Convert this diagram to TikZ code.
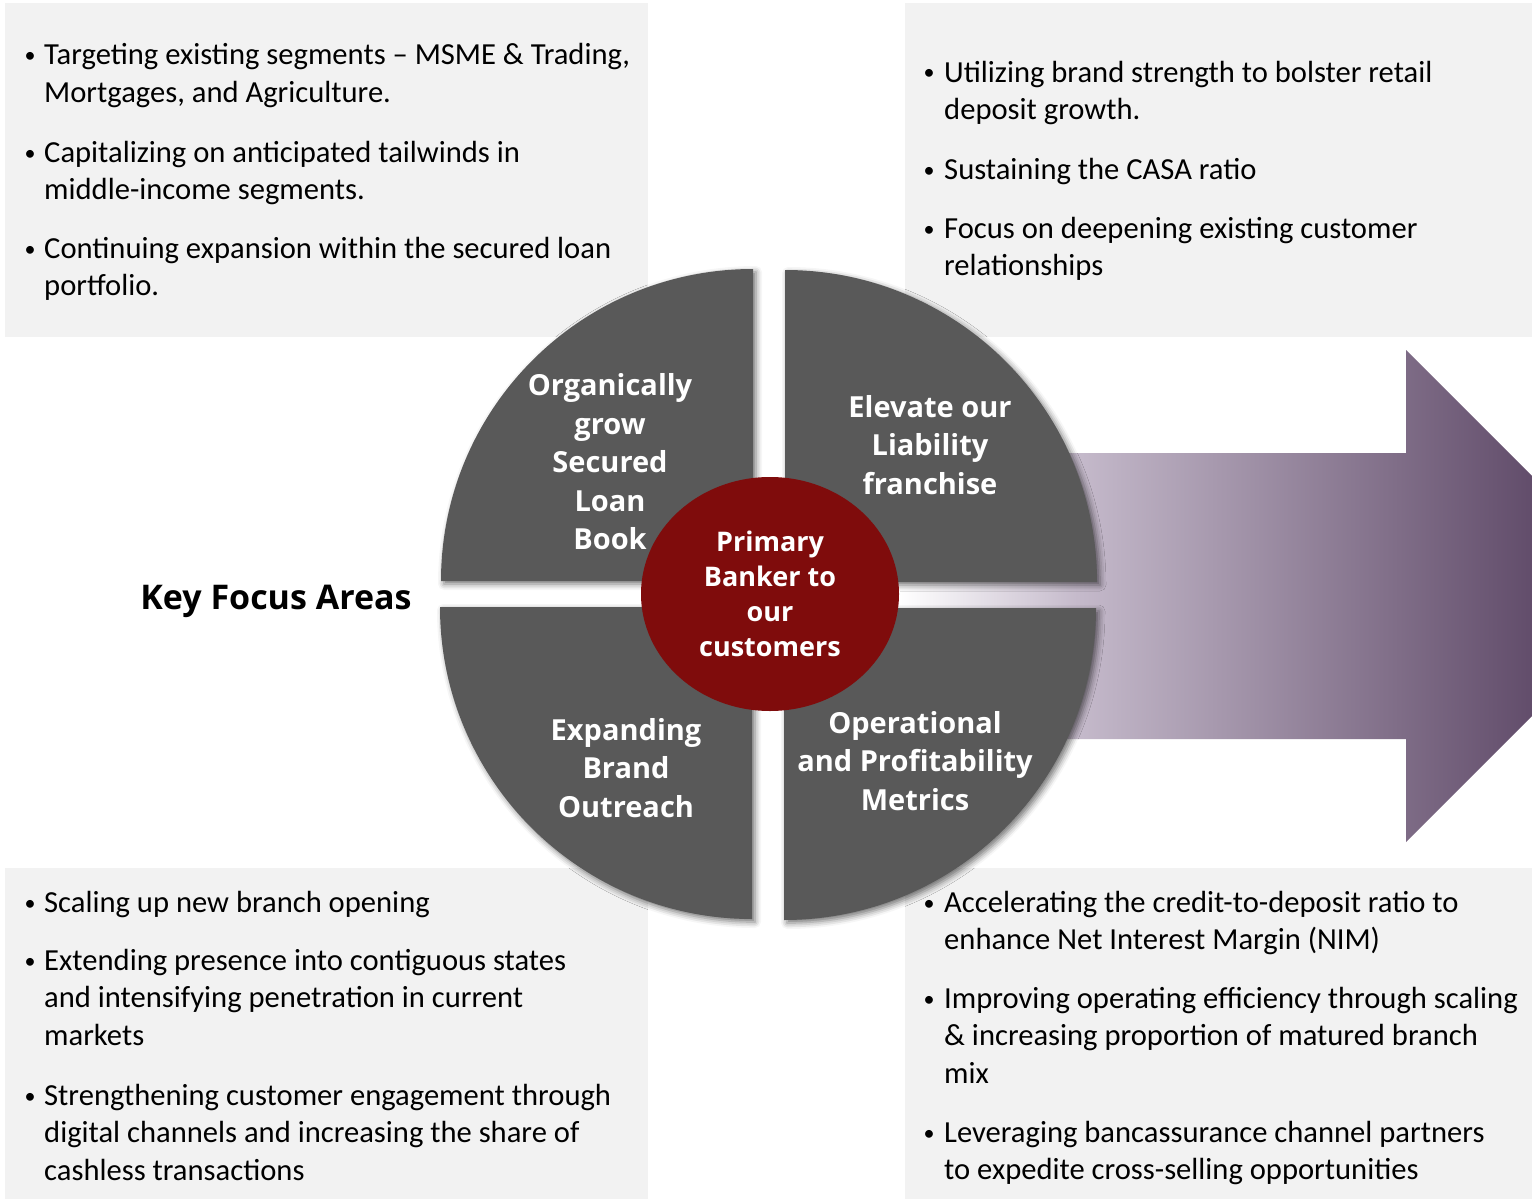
\documentclass[tikz,border=0pt]{standalone}
\usepackage{fontspec}
\setmainfont{Carlito}
\newfontfamily\boldface{Open Sans}
\usetikzlibrary{shapes.geometric,shadows.blur}
\definecolor{boxgray}{HTML}{F2F2F2}
\definecolor{quadgray}{HTML}{595959}
\definecolor{corered}{HTML}{7F0C0C}
\definecolor{purpA}{HTML}{C5BACB}
\definecolor{purpB}{HTML}{624D6B}
\pgfdeclarehorizontalshading{arrowshade}{100bp}{color(0bp)=(white); color(25bp)=(white); color(39bp)=(purpA); color(75bp)=(purpB); color(100bp)=(purpB)}
\newcommand{\ptext}[1]{\parbox[t]{720pt}{\raggedright #1}}
\begin{document}
\begin{tikzpicture}[x=1pt,y=-1pt,
  panel/.style={fill=boxgray, draw=none, inner sep=0, outer sep=0, anchor=north west},
  quadrant/.style={fill=quadgray, blur shadow={shadow xshift=3pt, shadow yshift=-3pt, shadow blur radius=6pt, shadow opacity=55}},
  body/.style={font=\fontsize{30.6}{37.5}\selectfont, anchor=base west, inner sep=0, text=black},
  bul/.style={font=\fontsize{22}{37.5}\selectfont, anchor=base, inner sep=0, text=black},
  qtext/.style={text=white, font=\boldface\bfseries\fontsize{29}{38.5}\selectfont, align=center, inner sep=0}]
\path[use as bounding box] (0,0) rectangle (1532,1199);
% panels
\node[panel, minimum width=643, minimum height=334] (tlbox) at (5,3) {};
\node[panel, minimum width=627, minimum height=334] (trbox) at (905,3) {};
\node[panel, minimum width=643, minimum height=331] (blbox) at (5,868) {};
\node[panel, minimum width=627, minimum height=331] (brbox) at (905,868) {};
% arrow
\shade[shading=arrowshade] (900,453) -- (1406,453) -- (1406,350) -- (1532,476) -- (1532,716) -- (1406,842) -- (1406,739) -- (900,739) -- cycle;
% quadrants
\fill[quadrant] (753,581) -- (441,581) arc[start angle=180, end angle=270, radius=312] -- cycle;
\fill[quadrant] (785,582) -- (785,270) arc[start angle=270, end angle=360, radius=312] -- cycle;
\fill[quadrant] (752,607) -- (752,919) arc[start angle=90, end angle=180, radius=312] -- cycle;
\fill[quadrant] (784,608) -- (1096,608) arc[start angle=0, end angle=90, radius=312] -- cycle;
% quadrant labels
\node[qtext] (q1) at (610,462) {Organically\\grow\\Secured\\Loan\\Book};
\node[qtext] (q2) at (930,445) {Elevate our\\Liability\\franchise};
\node[qtext] (q3) at (626,768) {Expanding\\Brand\\Outreach};
\node[qtext] (q4) at (915,761) {Operational\\and Profitability\\Metrics};
% core
\node[ellipse, fill=corered, minimum width=258, minimum height=234, inner sep=0, text=white, align=center, font=\boldface\bfseries\fontsize{27}{35}\selectfont] (core) at (770,594) {Primary\\Banker to\\our\\customers};
% title
\node[font=\boldface\bfseries\fontsize{34}{38}\selectfont, anchor=base, inner sep=0] (title) at (276,609) {Key Focus Areas};
% top-left texts
\node[bul] (tlb1) at (30,63) {•};
\node[body] (tlt1) at (44,65) {\ptext{Targeting existing segments – MSME \& Trading,\\Mortgages, and Agriculture.}};
\node[bul] (tlb2) at (30,160) {•};
\node[body] (tlt2) at (44,162) {\ptext{Capitalizing on anticipated tailwinds in\\middle-income segments.}};
\node[bul] (tlb3) at (30,256) {•};
\node[body] (tlt3) at (44,258) {\ptext{Continuing expansion within the secured loan\\portfolio.}};
% top-right texts
\node[bul] (trb1) at (929,80) {•};
\node[body] (trt1) at (944,82) {\ptext{Utilizing brand strength to bolster retail\\deposit growth.}};
\node[bul] (trb2) at (929,177) {•};
\node[body] (trt2) at (944,179) {\ptext{Sustaining the CASA ratio}};
\node[bul] (trb3) at (929,236) {•};
\node[body] (trt3) at (944,238) {\ptext{Focus on deepening existing customer\\relationships}};
% bottom-left texts
\node[bul] (blb1) at (30,910) {•};
\node[body] (blt1) at (44,912) {\ptext{Scaling up new branch opening}};
\node[bul] (blb2) at (30,968) {•};
\node[body] (blt2) at (44,970) {\ptext{Extending presence into contiguous states\\and intensifying penetration in current\\markets}};
\node[bul] (blb3) at (30,1103) {•};
\node[body] (blt3) at (44,1105) {\ptext{Strengthening customer engagement through\\digital channels and increasing the share of\\cashless transactions}};
% bottom-right texts
\node[bul] (brb1) at (929,910) {•};
\node[body] (brt1) at (944,912) {\ptext{Accelerating the credit-to-deposit ratio to\\enhance Net Interest Margin (NIM)}};
\node[bul] (brb2) at (929,1006) {•};
\node[body] (brt2) at (944,1008) {\ptext{Improving operating efficiency through scaling\\\& increasing proportion of matured branch\\mix}};
\node[bul] (brb3) at (929,1140) {•};
\node[body] (brt3) at (944,1142) {\ptext{Leveraging bancassurance channel partners\\to expedite cross-selling opportunities}};
\end{tikzpicture}
\end{document}
